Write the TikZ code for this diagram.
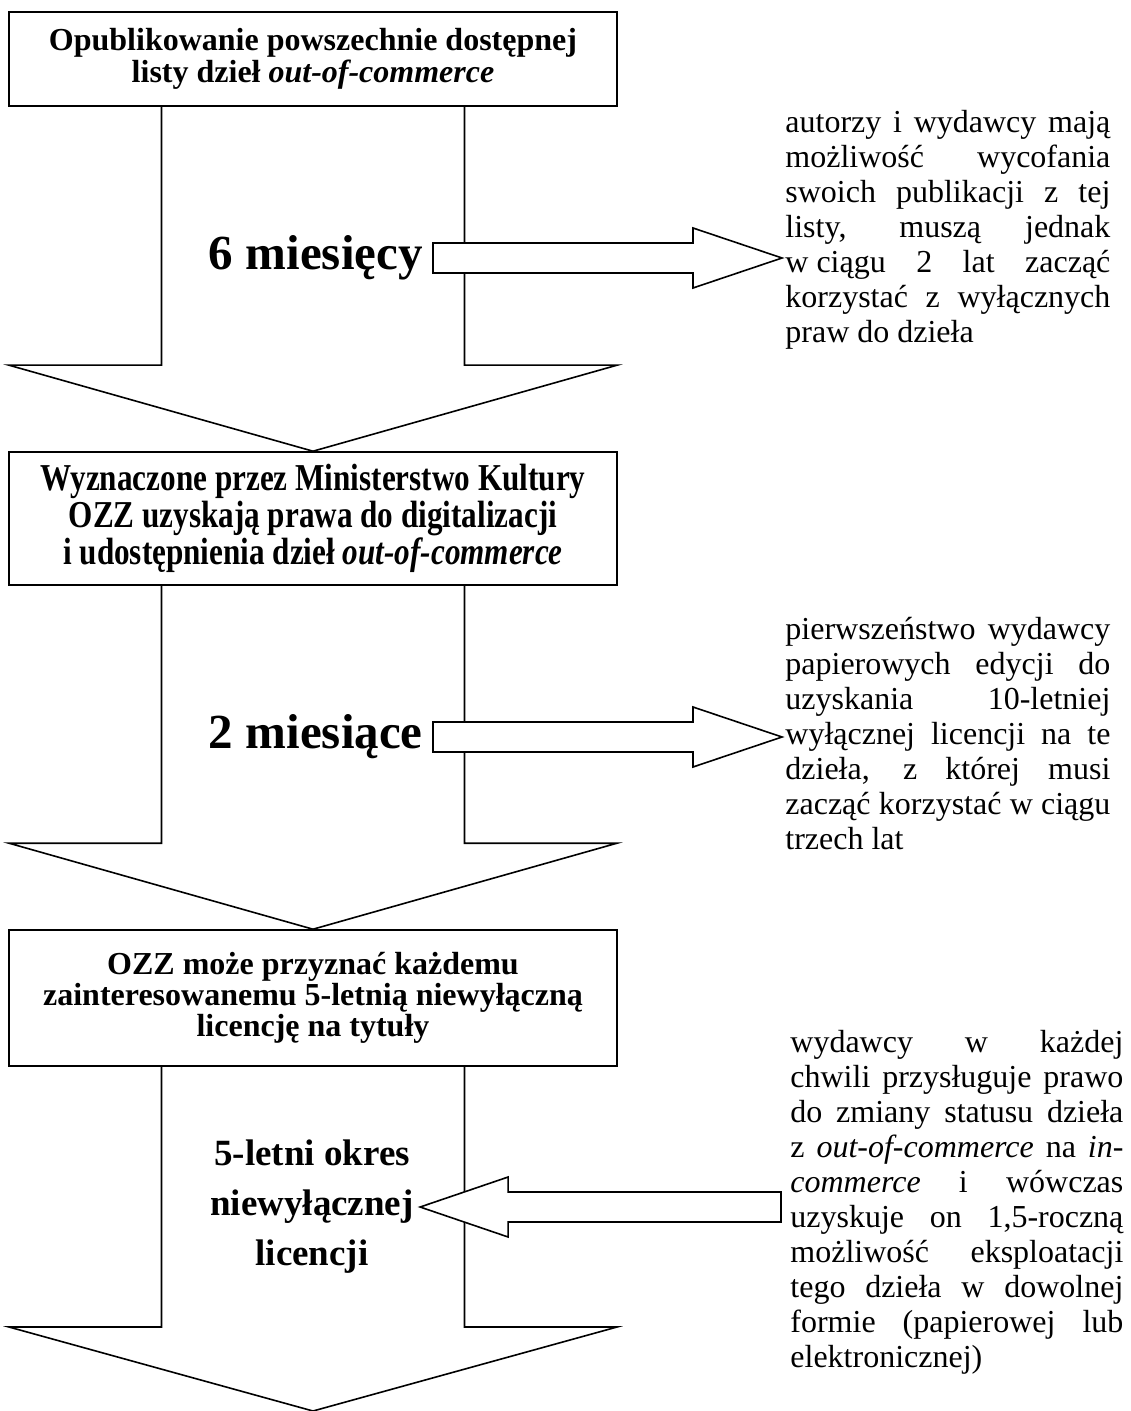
\documentclass[tikz,border=0pt]{standalone}
\usepackage{fontspec}
\setmainfont{Liberation Serif}
\newfontfamily\condfont[FakeStretch=0.82]{Liberation Serif}
\usetikzlibrary{calc}

\begin{document}
\begin{tikzpicture}[x=0.5pt,y=-0.5pt]
	\tikzset{stage box/.style={draw,thick,fill=white,minimum width=304pt,align=center,inner sep=2pt},
		bigarrow/.style={draw,thick},
		sidearrow/.style={draw,thick,fill=white},
		side text/.style={anchor=base west,inner sep=0pt,align=justify,font=\fontsize{16}{17.5}\selectfont},
		period/.style={anchor=east,inner sep=5pt,font=\bfseries\fontsize{24.5}{26}\selectfont}}
	\useasboundingbox (0,0) rectangle (1130,1411);
	
	% stages
	\node [stage box,minimum height=47pt] (box1) at (313,59) {\bfseries\fontsize{16}{18.5}\selectfont Opublikowanie powszechnie dostępnej\\ \bfseries\fontsize{16}{18.5}\selectfont listy dzieł \textit{out-of-commerce}};
	\node [stage box,minimum height=66.5pt] (box2) at (313,518.5) {\condfont\bfseries\fontsize{19}{18.5}\selectfont Wyznaczone przez Ministerstwo Kultury\\ \condfont\bfseries\fontsize{19}{18.5}\selectfont OZZ uzyskają prawa do digitalizacji\\ \condfont\bfseries\fontsize{19}{18.5}\selectfont i udostępnienia dzieł \textit{out-of-commerce}};
	\node [stage box,minimum height=68pt] (box3) at (313,998) {\bfseries\fontsize{16}{18}\selectfont OZZ może przyznać każdemu\\ \bfseries\fontsize{16}{18}\selectfont zainteresowanemu 5-letnią niewyłączną\\ \bfseries\fontsize{16}{18}\selectfont licencję na tytuły};
	\coordinate (end) at (313,1411);
	
	% big arrows
	\draw[bigarrow] ($(box1.south)+(-151.5,0)$) -- ($(box2.north)+(-151.5,-86)$) -- ($(box2.north)+(-304,-86)$) -- (box2.north) -- ($(box2.north)+(304,-86)$) -- ($(box2.north)+(151.5,-86)$) -- ($(box1.south)+(151.5,0)$);
	\draw[bigarrow] ($(box2.south)+(-151.5,0)$) -- ($(box3.north)+(-151.5,-86)$) -- ($(box3.north)+(-304,-86)$) -- (box3.north) -- ($(box3.north)+(304,-86)$) -- ($(box3.north)+(151.5,-86)$) -- ($(box2.south)+(151.5,0)$);
	\draw[bigarrow] ($(box3.south)+(-151.5,0)$) -- ($(end)+(-151.5,-84)$) -- ($(end)+(-304,-84)$) -- (end) -- ($(end)+(304,-84)$) -- ($(end)+(151.5,-84)$) -- ($(box3.south)+(151.5,0)$);
	
	% periods
	\node [period] (lbl6) at (433,258) {6 miesięcy};
	\node [period] (lbl2) at (433,737) {2 miesiące};
	\node [align=center,inner xsep=3pt,font=\bfseries\fontsize{18.5}{25}\selectfont] (lbl5) at (312,1207) {5-letni okres\\ niewyłącznej\\ licencji};
	
	% comments
	\node [side text,text width=162.5pt] (txt1) at (785,133) {\hyphenpenalty=10000\tolerance=10000 autorzy i wydawcy mają\linebreak możliwość wycofania\linebreak swoich publikacji z tej\linebreak listy, muszą jednak\linebreak \mbox{w ciągu} 2 lat zacząć\linebreak korzystać z wyłącznych\linebreak praw do dzieła};
	\node [side text,text width=162.5pt] (txt2) at (785,639) {\hyphenpenalty=10000\tolerance=10000 pierwszeństwo wydawcy\linebreak papierowych edycji do\linebreak uzyskania 10-letniej\linebreak wyłącznej licencji na te\linebreak dzieła, z której musi\linebreak zacząć korzystać w ciągu\linebreak trzech lat};
	\node [side text,text width=166.5pt] (txt3) at (790,1052) {\hyphenpenalty=10000\tolerance=10000 wydawcy w każdej\linebreak chwili przysługuje prawo\linebreak do zmiany statusu dzieła\linebreak z \textit{out-of-commerce} na \textit{in-}\linebreak \textit{commerce} i wówczas\linebreak uzyskuje on 1,5-roczną\linebreak możliwość eksploatacji\linebreak tego dzieła w dowolnej\linebreak formie (papierowej lub\linebreak elektronicznej)};
	\coordinate (c5) at (781,1207);
	
	% side arrows
	\draw[sidearrow] let \p1=(lbl6.east), \p2=(txt1.west) in (\x1,\y1-7.5pt) -- (\x2-46pt,\y1-7.5pt) -- (\x2-46pt,\y1-15pt) -- (\x2-1.5pt,\y1) -- (\x2-46pt,\y1+15pt) -- (\x2-46pt,\y1+7.5pt) -- (\x1,\y1+7.5pt) -- cycle;
	\draw[sidearrow] let \p1=(lbl2.east), \p2=(txt2.west) in (\x1,\y1-7.5pt) -- (\x2-46pt,\y1-7.5pt) -- (\x2-46pt,\y1-15pt) -- (\x2-1.5pt,\y1) -- (\x2-46pt,\y1+15pt) -- (\x2-46pt,\y1+7.5pt) -- (\x1,\y1+7.5pt) -- cycle;
	\draw[sidearrow] let \p1=(c5), \p2=(lbl5.east) in (\x1,\y1-7.5pt) -- (\x2+44pt,\y1-7.5pt) -- (\x2+44pt,\y1-15pt) -- (\x2,\y1) -- (\x2+44pt,\y1+15pt) -- (\x2+44pt,\y1+7.5pt) -- (\x1,\y1+7.5pt) -- cycle;
\end{tikzpicture}
\end{document}
